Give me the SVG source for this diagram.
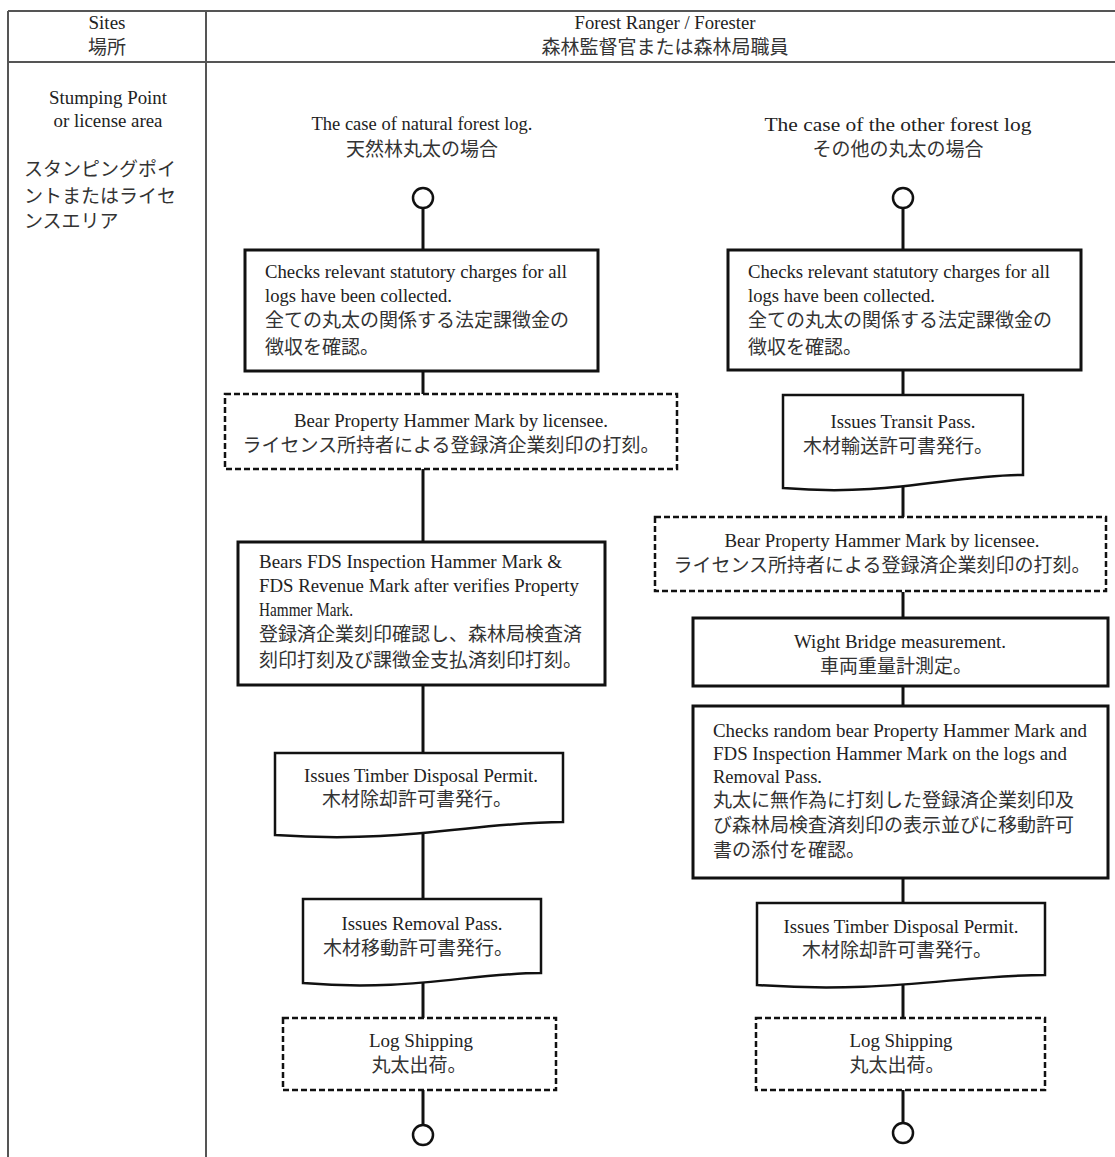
<svg xmlns="http://www.w3.org/2000/svg" width="1115" height="1157" viewBox="0 0 1115 1157">
<style>
.bg{fill:#fff}
.tbl{stroke:#555;stroke-width:2;fill:none}
.box{fill:#fff;stroke:#111;stroke-width:3}
.dash{fill:#fff;stroke:#111;stroke-width:2.5;stroke-dasharray:6 3}
.doc{fill:#fff;stroke:#111;stroke-width:2.5}
.term{fill:#fff;stroke:#111;stroke-width:2.5}
.conn{stroke:#111;stroke-width:3;fill:none}
.en{font-family:"Liberation Serif","Times New Roman",serif;font-size:18px;fill:#222}
.jp{font-family:"Noto Sans CJK JP","Noto Sans CJK SC",sans-serif;font-size:19px;fill:#333}
.c{text-anchor:middle}
</style>
<rect class="bg" x="0" y="0" width="1115" height="1157"/>
<g id="table">
<line class="tbl" x1="8" y1="11" x2="1115" y2="11"/>
<line class="tbl" x1="8" y1="62" x2="1115" y2="62" stroke-width="3"/>
<line class="tbl" x1="8" y1="11" x2="8" y2="1157"/>
<line class="tbl" x1="206" y1="11" x2="206" y2="1157"/>
<text class="en c" x="107" y="29" textLength="37" lengthAdjust="spacingAndGlyphs">Sites</text>
<text class="jp c" x="107" y="54">場所</text>
<text class="en c" x="665" y="29" textLength="181" lengthAdjust="spacingAndGlyphs">Forest Ranger / Forester</text>
<text class="jp c" x="665" y="54">森林監督官または森林局職員</text>
<text class="en c" x="108" y="104" textLength="118" lengthAdjust="spacingAndGlyphs">Stumping Point</text>
<text class="en c" x="108" y="127" textLength="109" lengthAdjust="spacingAndGlyphs">or license area</text>
<text class="jp" x="24" y="176">スタンピングポイ</text>
<text class="jp" x="24" y="203">ントまたはライセ</text>
<text class="jp" x="24" y="228">ンスエリア</text>
<text class="en c" x="422" y="130" textLength="221" lengthAdjust="spacingAndGlyphs">The case of natural forest log.</text>
<text class="jp c" x="422" y="156">天然林丸太の場合</text>
<text class="en c" x="898" y="131" textLength="267" lengthAdjust="spacingAndGlyphs">The case of the other forest log</text>
<text class="jp c" x="898" y="156">その他の丸太の場合</text>
</g>
<g id="connectors">
<line class="conn" x1="423" y1="208" x2="423" y2="249"/>
<line class="conn" x1="423" y1="371" x2="423" y2="394"/>
<line class="conn" x1="423" y1="469" x2="423" y2="541"/>
<line class="conn" x1="423" y1="685" x2="423" y2="753"/>
<line class="conn" x1="423" y1="834" x2="423" y2="899"/>
<line class="conn" x1="423" y1="982" x2="423" y2="1018"/>
<line class="conn" x1="423" y1="1090" x2="423" y2="1125"/>
<line class="conn" x1="903" y1="208" x2="903" y2="250"/>
<line class="conn" x1="903" y1="370" x2="903" y2="395"/>
<line class="conn" x1="903" y1="485" x2="903" y2="517"/>
<line class="conn" x1="903" y1="592" x2="903" y2="618"/>
<line class="conn" x1="903" y1="686" x2="903" y2="706"/>
<line class="conn" x1="903" y1="878" x2="903" y2="903"/>
<line class="conn" x1="903" y1="983" x2="903" y2="1018"/>
<line class="conn" x1="903" y1="1090" x2="903" y2="1123"/>
</g>
<g id="L-start"><circle class="term" cx="423" cy="198" r="10"/></g>
<g id="L-check">
<rect class="box" x="245" y="250" width="353" height="121"/>
<text class="en" x="265" y="278" textLength="302" lengthAdjust="spacingAndGlyphs">Checks relevant statutory charges for all</text>
<text class="en" x="265" y="302" textLength="187" lengthAdjust="spacingAndGlyphs">logs have been collected.</text>
<text class="jp" x="265" y="327">全ての丸太の関係する法定課徴金の</text>
<text class="jp" x="265" y="354">徴収を確認。</text>
</g>
<g id="L-property">
<rect class="dash" x="225" y="394" width="452" height="75"/>
<text class="en c" x="451" y="427" textLength="314" lengthAdjust="spacingAndGlyphs">Bear Property Hammer Mark by licensee.</text>
<text class="jp c" x="451" y="452" font-size="18.5">ライセンス所持者による登録済企業刻印の打刻。</text>
</g>
<g id="L-inspection">
<rect class="box" x="238" y="542" width="367" height="143"/>
<text class="en" x="259" y="568" textLength="303" lengthAdjust="spacingAndGlyphs">Bears FDS Inspection Hammer Mark &amp;</text>
<text class="en" x="259" y="592" textLength="320" lengthAdjust="spacingAndGlyphs">FDS Revenue Mark after verifies Property</text>
<text class="en" x="259" y="616" textLength="94" lengthAdjust="spacingAndGlyphs">Hammer Mark.</text>
<text class="jp" x="259" y="641">登録済企業刻印確認し、森林局検査済</text>
<text class="jp" x="259" y="667">刻印打刻及び課徴金支払済刻印打刻。</text>
</g>
<g id="L-disposal">
<path class="doc" d="M275,753 H563 V822 C477,822 405,844 275,835 Z"/>
<text class="en c" x="421" y="782" textLength="234" lengthAdjust="spacingAndGlyphs">Issues Timber Disposal Permit.</text>
<text class="jp c" x="417" y="806" font-size="18">木材除却許可書発行。</text>
</g>
<g id="L-removal">
<path class="doc" d="M303,899 H541 V973 C470,973 410,992 303,983 Z"/>
<text class="en c" x="422" y="930" textLength="161" lengthAdjust="spacingAndGlyphs">Issues Removal Pass.</text>
<text class="jp c" x="418" y="955" font-size="18">木材移動許可書発行。</text>
</g>
<g id="L-shipping">
<rect class="dash" x="283" y="1018" width="273" height="72"/>
<text class="en c" x="421" y="1047" textLength="104" lengthAdjust="spacingAndGlyphs">Log Shipping</text>
<text class="jp c" x="419" y="1072" font-size="18">丸太出荷。</text>
</g>
<g id="L-end"><circle class="term" cx="423" cy="1135" r="10"/></g>
<g id="R-start"><circle class="term" cx="903" cy="198" r="10"/></g>
<g id="R-check">
<rect class="box" x="728" y="250" width="353" height="120"/>
<text class="en" x="748" y="278" textLength="302" lengthAdjust="spacingAndGlyphs">Checks relevant statutory charges for all</text>
<text class="en" x="748" y="302" textLength="187" lengthAdjust="spacingAndGlyphs">logs have been collected.</text>
<text class="jp" x="748" y="327">全ての丸太の関係する法定課徴金の</text>
<text class="jp" x="748" y="354">徴収を確認。</text>
</g>
<g id="R-transit">
<path class="doc" d="M783,395 H1023 V475 C951,475 891,497 783,488 Z"/>
<text class="en c" x="903" y="428" textLength="145" lengthAdjust="spacingAndGlyphs">Issues Transit Pass.</text>
<text class="jp c" x="898" y="453" font-size="18">木材輸送許可書発行。</text>
</g>
<g id="R-property">
<rect class="dash" x="655" y="517" width="451" height="74"/>
<text class="en c" x="882" y="547" textLength="315" lengthAdjust="spacingAndGlyphs">Bear Property Hammer Mark by licensee.</text>
<text class="jp c" x="882" y="572" font-size="18.5">ライセンス所持者による登録済企業刻印の打刻。</text>
</g>
<g id="R-weigh">
<rect class="box" x="693" y="618" width="415" height="68"/>
<text class="en c" x="900" y="648" textLength="212" lengthAdjust="spacingAndGlyphs">Wight Bridge measurement.</text>
<text class="jp c" x="896" y="673" font-size="18">車両重量計測定。</text>
</g>
<g id="R-random">
<rect class="box" x="693" y="706" width="415" height="172"/>
<text class="en" x="713" y="737" textLength="374" lengthAdjust="spacingAndGlyphs">Checks random bear Property Hammer Mark and</text>
<text class="en" x="713" y="760" textLength="354" lengthAdjust="spacingAndGlyphs">FDS Inspection Hammer Mark on the logs and</text>
<text class="en" x="713" y="783" textLength="109" lengthAdjust="spacingAndGlyphs">Removal Pass.</text>
<text class="jp" x="713" y="807">丸太に無作為に打刻した登録済企業刻印及</text>
<text class="jp" x="713" y="832">び森林局検査済刻印の表示並びに移動許可</text>
<text class="jp" x="713" y="857">書の添付を確認。</text>
</g>
<g id="R-disposal">
<path class="doc" d="M757,903 H1045 V975 C959,975 887,994 757,985 Z"/>
<text class="en c" x="901" y="933" textLength="235" lengthAdjust="spacingAndGlyphs">Issues Timber Disposal Permit.</text>
<text class="jp c" x="897" y="957" font-size="18">木材除却許可書発行。</text>
</g>
<g id="R-shipping">
<rect class="dash" x="756" y="1018" width="289" height="72"/>
<text class="en c" x="901" y="1047" textLength="103" lengthAdjust="spacingAndGlyphs">Log Shipping</text>
<text class="jp c" x="897" y="1072" font-size="18">丸太出荷。</text>
</g>
<g id="R-end"><circle class="term" cx="903" cy="1133" r="10"/></g>
</svg>
